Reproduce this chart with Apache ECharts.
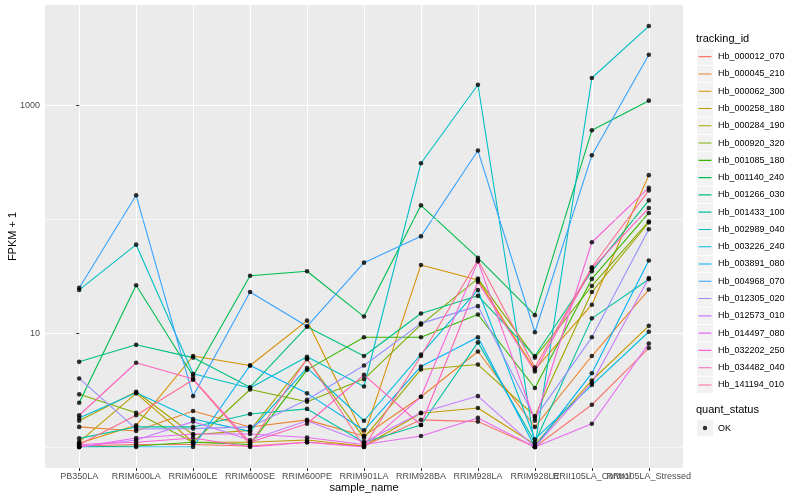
<!DOCTYPE html>
<html><head><meta charset="utf-8">
<script src="https://cdn.jsdelivr.net/npm/echarts@6/dist/echarts.min.js"></script>
<style>html,body{margin:0;padding:0;background:#fff}#c{width:800px;height:500px}</style>
</head><body><div id="c"></div>
<script>
// ---- data ----
const categories = ["PB350LA","RRIM600LA","RRIM600LE","RRIM600SE","RRIM600PE","RRIM901LA","RRIM928BA","RRIM928LA","RRIM928LE","RRII105LA_Control","RRII105LA_Stressed"];
const trackingIds = ["Hb_000012_070","Hb_000045_210","Hb_000062_300","Hb_000258_180","Hb_000284_190","Hb_000920_320","Hb_001085_180","Hb_001140_240","Hb_001266_030","Hb_001433_100","Hb_002989_040","Hb_003226_240","Hb_003891_080","Hb_004968_070","Hb_012305_020","Hb_012573_010","Hb_014497_080","Hb_032202_250","Hb_034482_040","Hb_141194_010"];
const hueColors = ["#F8766D","#EA8331","#D89000","#C09B00","#A3A500","#7CAE00","#39B600","#00BB4E","#00BF7D","#00C1A3","#00BFC4","#00BAE0","#00B0F6","#35A2FF","#9590FF","#C77CFF","#E76BF3","#FA62DB","#FF62BC","#FF6C90"];
const hb000012_070 = [1.02, 1.05, 1.05, 1.02, 1.1, 1.02, 1.73, 1.67, 1.0, 2.35, 7.4];
const hb000045_210 = [1.5, 1.38, 2.07, 1.5, 1.73, 1.25, 2.76, 6.9, 1.5, 6.3, 24.2];
const hb000062_300 = [1.08, 1.55, 6.3, 5.2, 12.9, 1.25, 39.8, 29.4, 4.8, 17.8, 245];
const hb000258_180 = [1.11, 2.96, 1.1, 1.1, 1.15, 1.02, 1.98, 2.2, 1.05, 3.84, 11.6];
const hb000284_190 = [1.7, 3.06, 1.28, 1.4, 5.9, 1.2, 4.8, 5.3, 1.87, 23, 94];
const hb000920_320 = [2.9, 2.0, 1.1, 3.2, 2.5, 3.95, 11.9, 30.2, 6.1, 26, 96];
const hb001085_180 = [1.0, 1.02, 1.1, 1.05, 4.76, 9.2, 9.2, 14.6, 3.3, 30, 114];
const hb001140_240 = [2.45, 26.4, 4.2, 32, 35, 14, 133, 46, 14.4, 607, 1107];
const hb001266_030 = [5.6, 7.9, 6.1, 3.35, 11.4, 6.3, 14.9, 21.3, 6.3, 35, 147];
const hb001433_100 = [1.19, 1.5, 1.5, 1.95, 2.16, 1.1, 1.56, 8.3, 1.1, 13.5, 29.8];
const hb002989_040 = [24, 60, 4.4, 3.3, 6.2, 3.4, 312, 1528, 1.0, 1750, 5010];
const hb003226_240 = [1.8, 3.0, 1.76, 1.37, 4.95, 1.7, 6.5, 24, 1.17, 3.5, 10.3];
const hb003891_080 = [1.0, 1.0, 1.0, 5.2, 2.96, 1.4, 5.1, 9.2, 1.0, 4.45, 43.5];
const hb004968_070 = [25, 163, 2.8, 23, 11.5, 41.7, 71, 403, 10.2, 366, 2800];
const hb012305_020 = [4.0, 1.44, 1.45, 1.5, 2.6, 5.2, 12.2, 17.3, 1.8, 9.2, 82];
const hb012573_010 = [1.0, 1.15, 1.67, 1.15, 1.7, 1.1, 2.0, 2.8, 1.0, 3.65, 30.6];
const hb014497_080 = [1.0, 1.2, 1.3, 1.3, 1.21, 1.05, 1.25, 1.8, 1.0, 1.6, 8.1];
const hb032202_250 = [1.05, 1.1, 1.2, 1.0, 1.1, 1.0, 2.76, 42.8, 1.7, 63, 190];
const hb034482_040 = [1.9, 5.5, 3.95, 1.1, 1.6, 4.3, 1.56, 28.2, 4.6, 37, 126];
const hb141194_010 = [1.05, 1.9, 3.9, 1.05, 6.0, 1.0, 6.3, 44, 5.0, 38, 180];
const majorBreaks = [10, 1000];
const minorBreaks = [1, 100];
const statusLevels = ["OK"];

// ---- chart ----
const seriesValues = [hb000012_070,hb000045_210,hb000062_300,hb000258_180,hb000284_190,hb000920_320,hb001085_180,hb001140_240,hb001266_030,hb001433_100,hb002989_040,hb003226_240,hb003891_080,hb004968_070,hb012305_020,hb012573_010,hb014497_080,hb032202_250,hb034482_040,hb141194_010];
const FONT = "'Liberation Sans', Arial, sans-serif";
const allVals = seriesValues.flat();
const lo = Math.log10(Math.min(...allVals)), hi = Math.log10(Math.max(...allVals));
const pad = 0.05 * (hi - lo);
const yMin = Math.pow(10, lo - pad), yMax = Math.pow(10, hi + pad);
const catIdx = categories.map((c, i) => i);
const xMax = categories.length - 1 + 0.6;
// the extra (empty) label at the axis end keeps ECharts from hiding the overlapping last two labels
const xLabelValues = catIdx.concat([xMax]);

const LINE_ICON = 'path://M0,0 L0.01,0 L0,0.01 Z M1.5,8.1 L14.5,8.1 L14.5,9.2 L1.5,9.2 Z M16,17.28 L15.99,17.28 L16,17.27 Z';
const DOT_ICON = 'path://M0,0 L0.01,0 L0,0.01 Z M16,17.28 L15.99,17.28 L16,17.27 Z M5.8,8.64 A2.2,2.2 0 1,1 10.2,8.64 A2.2,2.2 0 1,1 5.8,8.64 Z';

const lineSeries = trackingIds.map((id, k) => ({
  name: id, type: 'line', data: seriesValues[k].map((v, i) => [i, v]),
  symbol: 'none', color: hueColors[k], lineStyle: { width: 1.1, color: hueColors[k] },
  z: 3, silent: true, animation: false
}));
const pointSeries = {
  name: statusLevels[0], type: 'scatter',
  data: seriesValues.flatMap(vals => vals.map((v, i) => [i, v])),
  symbol: 'circle', symbolSize: 4.6, itemStyle: { color: '#000' }, z: 5, silent: true, animation: false
};
const minorGridSeries = {
  name: '_minor', type: 'line', data: [], z: 1, silent: true, animation: false,
  markLine: { silent: true, symbol: 'none', label: { show: false }, animation: false,
    lineStyle: { color: '#FFFFFF', width: 0.55, type: 'solid' },
    data: minorBreaks.map(v => ({ yAxis: v })) }
};

const keyBoxes = [];
for (let i = 0; i < trackingIds.length; i++) {
  keyBoxes.push({ type: 'rect', shape: { x: 697, y: 48 + i * 17.28 + 0.5, width: 16, height: 16.3 }, style: { fill: '#F2F2F2' }, z: 0 });
}
keyBoxes.push({ type: 'rect', shape: { x: 697, y: 419.4 + 0.5, width: 16, height: 16.3 }, style: { fill: '#F2F2F2' }, z: 0 });

const chart = echarts.init(document.getElementById('c'));
chart.setOption({
  animation: false,
  backgroundColor: '#FFFFFF',
  grid: { left: 45, top: 5, right: 117, bottom: 32, show: true, backgroundColor: '#EBEBEB', borderWidth: 0 },
  xAxis: {
    type: 'value', min: -0.6, max: xMax,
    axisLine: { show: false },
    axisTick: { show: true, length: 3, lineStyle: { color: '#333333', width: 1 }, customValues: catIdx },
    axisLabel: { customValues: xLabelValues, formatter: v => (categories[Math.round(v)] || ''), hideOverlap: false, interval: 0, showMinLabel: true, showMaxLabel: false, margin: 4, fontSize: 9, color: '#4D4D4D', fontFamily: FONT },
    splitLine: { show: true, lineStyle: { color: '#FFFFFF', width: 1.07 } }
  },
  yAxis: {
    type: 'log', logBase: 10, min: yMin, max: yMax,
    axisLine: { show: false },
    axisTick: { show: true, length: 3, lineStyle: { color: '#333333', width: 1 }, customValues: majorBreaks },
    axisLabel: { customValues: majorBreaks, formatter: v => String(Math.round(v)), margin: 5, fontSize: 9, color: '#4D4D4D', fontFamily: FONT },
    splitLine: { show: true, lineStyle: { color: '#FFFFFF', width: 1.07 } }
  },
  legend: [{
    data: trackingIds, orient: 'vertical', left: 697, top: 48, padding: 0,
    itemWidth: 16, itemHeight: 17.28, itemGap: 0, icon: LINE_ICON, selectedMode: false,
    itemStyle: { borderWidth: 0 },
    textStyle: { fontSize: 9, color: '#000000', fontFamily: FONT }
  }, {
    data: statusLevels, orient: 'vertical', left: 697, top: 419.4, padding: 0,
    itemWidth: 16, itemHeight: 17.28, itemGap: 0, icon: DOT_ICON, selectedMode: false,
    itemStyle: { borderWidth: 0, color: '#000' },
    textStyle: { fontSize: 9, color: '#000000', fontFamily: FONT }
  }],
  graphic: keyBoxes.concat([
    { type: 'text', left: 696, top: 33, style: { text: 'tracking_id', fontSize: 11, fill: '#000', fontFamily: FONT }, z: 5 },
    { type: 'text', left: 696, top: 404, style: { text: 'quant_status', fontSize: 11, fill: '#000', fontFamily: FONT }, z: 5 },
    { type: 'text', x: 364, y: 488, style: { text: 'sample_name', fontSize: 11, fill: '#000', fontFamily: FONT, textAlign: 'center', textVerticalAlign: 'middle' }, z: 5 },
    { type: 'text', x: 13, y: 236.5, rotation: Math.PI / 2, style: { text: 'FPKM + 1', fontSize: 11, fill: '#000', fontFamily: FONT, textAlign: 'center', textVerticalAlign: 'middle' }, z: 5 }
  ]),
  series: [minorGridSeries].concat(lineSeries, [pointSeries])
});
</script></body></html>
